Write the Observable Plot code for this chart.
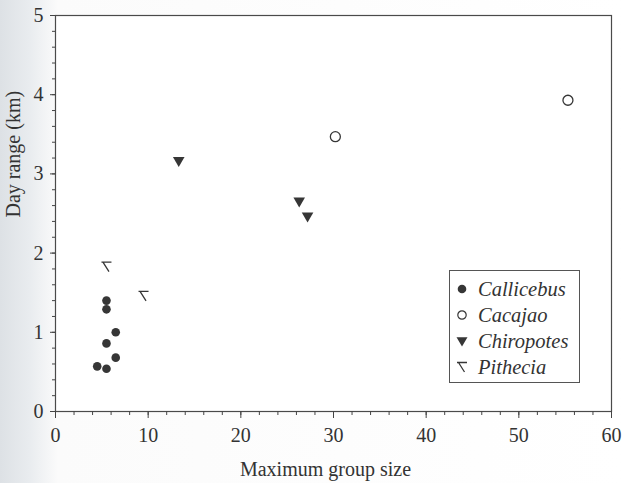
<!DOCTYPE html>
<html><head><meta charset="utf-8">
<script src="https://cdn.jsdelivr.net/npm/d3@7"></script>
<script src="https://cdn.jsdelivr.net/npm/@observablehq/plot@0.6"></script>
<style>
html,body{margin:0;padding:0;}
body{width:623px;height:483px;position:relative;overflow:hidden;background:linear-gradient(to right,#dde1e5 0px,#e9ecef 30px,#fbfbfb 58px,#ffffff 100%);}
#chart{position:absolute;left:0;top:0;}
#chart svg, #chart svg text{font-family:"Liberation Serif","Times New Roman",Times,serif !important;font-variant:normal !important;}
#legend{position:absolute;left:449px;top:270px;width:129px;height:111px;border:1.3px solid #555;background:#fff;font-family:"Liberation Serif","Times New Roman",Times,serif;font-style:italic;font-size:20.5px;color:#333;}
.row{position:absolute;left:0;height:26px;display:flex;align-items:center;white-space:nowrap;}
.row svg{display:block;margin-left:5px;margin-right:9px;}
</style></head>
<body>
<div id="chart"></div>
<div id="legend"></div>
<script>
// data
const species = ["Callicebus", "Cacajao", "Chiropotes", "Pithecia"];
const callicebusSize = [5.5, 5.5, 6.5, 5.5, 6.5, 4.5, 5.5];
const callicebusRange = [1.40, 1.29, 1.00, 0.86, 0.68, 0.57, 0.54];
const cacajaoSize = [30.2, 55.3];
const cacajaoRange = [3.47, 3.93];
const chiropotesSize = [13.3, 26.3, 27.2];
const chiropotesRange = [3.17, 2.66, 2.47];
const pitheciaSize = [5.5, 9.5];
const pitheciaRange = [1.83, 1.46];
const xTicks = [0, 10, 20, 30, 40, 50, 60];
const yTicks = [0, 1, 2, 3, 4, 5];
const xMinor = d3.range(0, 60.001, 2);
const yMinor = d3.range(0, 5.001, 0.2);
const xTitle = "Maximum group size";
const yTitle = "Day range (km)";

const ink = "#363636";
const pitheciaSymbol = {draw(ctx) {ctx.moveTo(-5, -4.5); ctx.lineTo(5, -4.5); ctx.moveTo(-3.5, -4.5); ctx.lineTo(2.5, 5);}};

const rows = (xs, ys) => xs.map((x, i) => ({x, y: ys[i]}));

const plot = Plot.plot({
  width: 623, height: 483,
  marginLeft: 55, marginRight: 12, marginTop: 15, marginBottom: 72,
  style: {background: "transparent", fontSize: "20px", color: "#333"},
  x: {domain: [0, 60]},
  y: {domain: [0, 5]},
  marks: [
    Plot.frame({fill: "white", stroke: "#4a4a4a", strokeWidth: 1.2}),
    Plot.axisX({ticks: xMinor, tickSize: 4, tickFormat: () => "", label: null, stroke: "#444"}),
    Plot.axisX({ticks: xTicks, tickSize: 7, tickPadding: 9, fontSize: 20, tickFormat: d => String(d), stroke: "#444", label: null}),
    Plot.axisY({ticks: yMinor, tickSize: 3, tickFormat: () => "", label: null, stroke: "#444"}),
    Plot.axisY({ticks: yTicks, tickSize: 5, tickPadding: 7, fontSize: 20, tickFormat: d => String(d), stroke: "#444", label: null}),
    Plot.text([xTitle], {frameAnchor: "bottom", lineAnchor: "bottom", dy: 64, dx: -8, fontSize: 20, fill: "#333"}),
    Plot.text([yTitle], {frameAnchor: "left", lineAnchor: "top", rotate: -90, dx: -50, dy: 4, fontSize: 20, fill: "#333"}),
    Plot.dot(rows(callicebusSize, callicebusRange), {x: "x", y: "y", r: 4.3, fill: ink, stroke: "none"}),
    Plot.dot(rows(cacajaoSize, cacajaoRange), {x: "x", y: "y", r: 5, fill: "white", stroke: ink, strokeWidth: 1.3}),
    Plot.dot(rows(chiropotesSize, chiropotesRange), {x: "x", y: "y", symbol: "triangle", rotate: 180, r: 4.3, fill: ink, stroke: "none"}),
    Plot.dot(rows(pitheciaSize, pitheciaRange), {x: "x", y: "y", symbol: pitheciaSymbol, fill: "none", stroke: ink, strokeWidth: 1.3})
  ]
});
document.getElementById("chart").append(plot);

// legend
const legendSymbols = [
  '<circle cx="7" cy="7" r="4.3" fill="' + ink + '"/>',
  '<circle cx="7" cy="7" r="4.2" fill="none" stroke="' + ink + '" stroke-width="1.2"/>',
  '<path d="M1.5,3.2 L12.5,3.2 L7,12.5 Z" fill="' + ink + '"/>',
  '<path d="M2,2.5 L12,2.5 M3.5,2.5 L9.5,12" fill="none" stroke="' + ink + '" stroke-width="1.3"/>'
];
const legend = document.getElementById("legend");
species.forEach((s, i) => {
  const row = document.createElement("div");
  row.className = "row";
  row.style.top = (5 + i * 26) + "px";
  row.innerHTML = '<svg width="14" height="14">' + legendSymbols[i] + '</svg><span>' + s + '</span>';
  legend.append(row);
});
</script>
</body></html>
